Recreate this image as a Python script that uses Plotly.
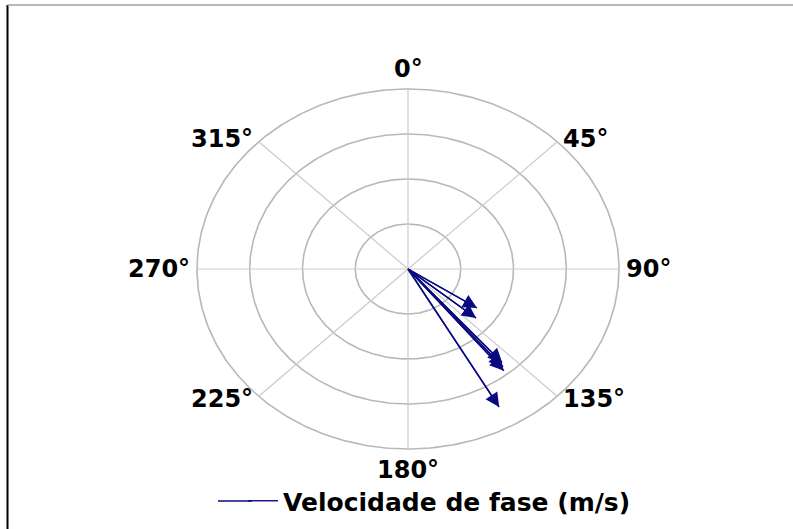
import numpy as np
import plotly.graph_objects as go

# Data: phase velocity vectors (magnitude in ring units, direction in degrees clockwise from North)
magnitudes = [1.57, 1.69, 2.74, 2.83, 2.90, 3.52]
angles_deg = [123.5, 130.2, 139.4, 140.4, 141.2, 150.6]
series_name = "Velocidade de fase (m/s)"

# Grid definition
ring_values = [1, 2, 3, 4]
spoke_angles = [0, 45, 90, 135, 180, 225, 270, 315]
tick_labels = ["0°", "45°", "90°", "135°", "180°", "225°", "270°", "315°"]

NAVY = "#0a0a80"
GRID = "#b8b8b8"
FONT = "DejaVu Sans"

def to_xy(r, deg):
    t = np.deg2rad(deg)
    return r * np.sin(t), r * np.cos(t)

fig = go.Figure()

# rings
th = np.linspace(0, 360, 361)
for rv in ring_values:
    cx, cy = to_xy(rv, th)
    fig.add_trace(go.Scatter(x=cx, y=cy, mode="lines", line=dict(color=GRID, width=1.6),
                             hoverinfo="skip", showlegend=False))
# spokes
rmax = max(ring_values)
sx, sy = [], []
for a in spoke_angles:
    ex, ey = to_xy(rmax, a)
    sx += [0, ex, None]
    sy += [0, ey, None]
fig.add_trace(go.Scatter(x=sx, y=sy, mode="lines", line=dict(color="#cbcbcb", width=1.2),
                         hoverinfo="skip", showlegend=False))

# arrow shafts
vx, vy = [], []
for m, a in zip(magnitudes, angles_deg):
    ex, ey = to_xy(m, a)
    vx += [0, ex, None]
    vy += [0, ey, None]
fig.add_trace(go.Scatter(x=vx, y=vy, mode="lines", line=dict(color=NAVY, width=1.4),
                         name="<b>%s</b>" % series_name, showlegend=True))

annotations = []
# arrow heads
for m, a in zip(magnitudes, angles_deg):
    ex, ey = to_xy(m, a)
    annotations.append(dict(x=ex, y=ey, ax=0, ay=0, xref="x", yref="y", axref="x", ayref="y",
                            text="", showarrow=True, arrowhead=2, arrowsize=2.0, arrowwidth=1.4,
                            arrowcolor=NAVY, standoff=0))

# angle labels
label_r = 4.1
for a, lab in zip(spoke_angles, tick_labels):
    lx, ly = to_xy(label_r, a)
    s, c = np.sin(np.deg2rad(a)), np.cos(np.deg2rad(a))
    xa = "left" if s > 0.1 else ("right" if s < -0.1 else "center")
    ya = "bottom" if c > 0.9 else ("top" if c < -0.9 else "middle")
    annotations.append(dict(x=lx, y=ly, xref="x", yref="y", text="<b>%s</b>" % lab,
                            showarrow=False, xanchor=xa, yanchor=ya,
                            font=dict(family=FONT, size=24, color="black")))

W, H = 793, 529
cxp, cyp = 408, 269
pxu_x, pxu_y = 52.75, 45.0
leg_y = 1 - 501 / H

fig.update_layout(
    width=W, height=H,
    margin=dict(l=0, r=0, t=0, b=0),
    paper_bgcolor="white", plot_bgcolor="white",
    xaxis=dict(range=[-cxp / pxu_x, (W - cxp) / pxu_x], visible=False, fixedrange=True),
    yaxis=dict(range=[-(H - cyp) / pxu_y, cyp / pxu_y], visible=False, fixedrange=True),
    showlegend=True,
    legend=dict(x=243 / W, y=leg_y, xanchor="left", yanchor="middle",
                bgcolor="rgba(0,0,0,0)", font=dict(family=FONT, size=25, color="black")),
    annotations=annotations,
    shapes=[
        dict(type="line", xref="paper", yref="paper", x0=7.5 / W, x1=7.5 / W, y0=0, y1=1 - 5 / H,
             line=dict(color="black", width=2)),
        dict(type="line", xref="paper", yref="paper", x0=7.5 / W, x1=1, y0=1 - 5 / H, y1=1 - 5 / H,
             line=dict(color="#a0a0a0", width=1.5)),
        # extend legend sample line to the left, as in the reference
        dict(type="line", xref="paper", yref="paper", x0=218 / W, x1=252 / W, y0=leg_y, y1=leg_y,
             line=dict(color=NAVY, width=1.4)),
    ],
    font=dict(family=FONT),
)

fig.write_html("out.html")
